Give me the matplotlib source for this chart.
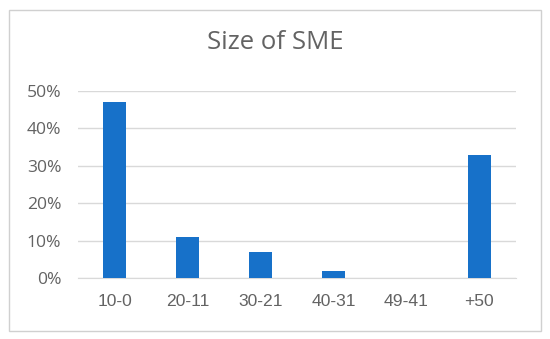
import matplotlib.pyplot as plt
from matplotlib.patches import Rectangle
from matplotlib.ticker import PercentFormatter

# data
categories = ['10-0', '20-11', '30-21', '40-31', '49-41', '+50']
shares = [0.47, 0.11, 0.07, 0.02, 0.0, 0.33]
y_ticks = [0, 0.1, 0.2, 0.3, 0.4, 0.5]

plt.rcParams['font.family'] = ['Open Sans', 'DejaVu Sans']
grey = '#636363'

fig = plt.figure(figsize=(5.5, 3.39), dpi=100)
ax = fig.add_axes([0.142, 0.179, 0.796, 0.553])

ax.bar(range(len(categories)), shares, width=0.31, color='#1771c9', zorder=3)
ax.set_xlim(-0.5, len(categories) - 0.5)
ax.set_ylim(0, 0.5)
ax.set_yticks(y_ticks)
ax.yaxis.set_major_formatter(PercentFormatter(1.0, decimals=0))
ax.set_xticks(range(len(categories)))
ax.set_xticklabels(categories, family=['Liberation Sans', 'DejaVu Sans'])

ax.grid(axis='y', color='#d9d9d9', linewidth=1, zorder=0)
for s in ['top', 'right', 'left']:
    ax.spines[s].set_visible(False)
ax.spines['bottom'].set_color('#d9d9d9')
ax.tick_params(length=0, colors=grey)
ax.tick_params(axis='x', labelsize=12.6, pad=11)
ax.tick_params(axis='y', labelsize=12.6, pad=12)

fig.text(0.5, 0.874, 'Size of SME', ha='center', va='center',
         fontsize=18.5, color=grey)

# light frame around the chart area
fig.patches.append(Rectangle((9 / 550, 8 / 339), 532 / 550, 321 / 339,
                             transform=fig.transFigure, fill=False,
                             edgecolor='#d0d0d0', linewidth=1))

fig.savefig('out.png', dpi=100)
